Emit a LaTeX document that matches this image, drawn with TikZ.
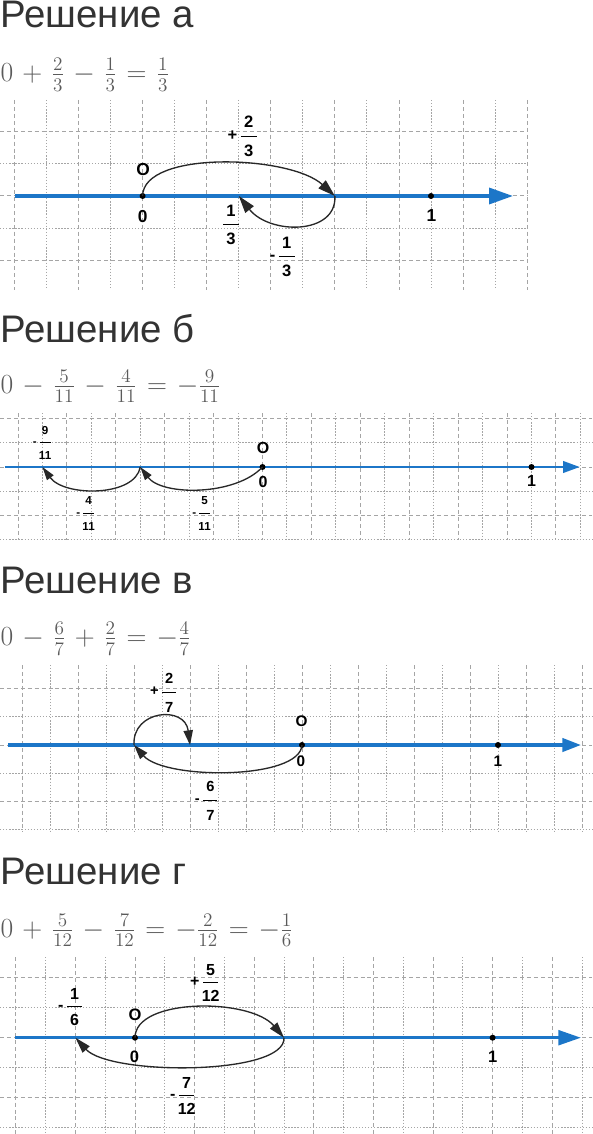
\documentclass[tikz,border=0pt]{standalone}
\usepackage[no-math]{fontspec}
\usepackage{amsmath}
\usetikzlibrary{arrows.meta}
\newfontfamily\labfont{Liberation Sans}
\definecolor{axisblue}{RGB}{28,118,200}
\definecolor{titlegray}{RGB}{51,51,51}
\definecolor{eqgray}{RGB}{90,90,90}
\definecolor{gridgray}{RGB}{165,165,165}
\definecolor{hopgray}{RGB}{40,40,40}
% stacked label fraction, #1 = extra gap
\newcommand{\frl}[3][0.3em]{\ensuremath{\genfrac{}{}{0.8pt}{0}%
  {\text{\makebox[0.95em]{#2}}\rule[-#1]{0pt}{0pt}}%
  {\rule{0pt}{\dimexpr0.72em+#1\relax}\text{\makebox[0.95em]{#3}}}}}
% equation line, looser spacing
\newcommand{\eqline}[1]{$\medmuskip=6mu\thickmuskip=6.5mu #1$}
\tikzset{
  every picture/.style={line width=0.75pt},
  gmaj/.style={draw=gridgray, line width=0.75pt, dash pattern=on 3pt off 2.2pt},
  gmin/.style={draw=gridgray, line width=0.75pt, dash pattern=on 1pt off 1.3pt},
  numline/.style args={#1/#2/#3}{draw=axisblue, line width=#1, -{Triangle[length=#2,width=#3]}},
  hop/.style args={#1/#2}{draw=hopgray, line width=1pt, -{Triangle[length=#1,width=#2]}},
  numdot/.style={circle, fill=black, inner sep=0pt, minimum size=4.5pt},
  lab/.style={inner sep=0pt, font=\labfont\bfseries\fontsize{#1}{#1}\selectfont},
  title/.style={anchor=base west, inner sep=0pt, text=titlegray, font=\labfont\fontsize{28.8}{32}\selectfont},
  eqn/.style={anchor=base west, inner sep=0pt, text=eqgray, font=\fontsize{20.74}{25}\selectfont}
}
\begin{document}
\begin{tikzpicture}[x=0.75pt,y=0.75pt,yscale=-1,xscale=1]
\useasboundingbox (0,0) rectangle (592,1134);

%%% Решение а
\node[title] (ta) at (0,28) {Решение а};
\node[eqn] (ea) at (0,81.7) {\eqline{0+\frac{2}{3}-\frac{1}{3}=\frac{1}{3}}};
% grid
\foreach \k in {-4,-2,...,12} \draw[gmaj] ({142.6+32.05*\k},100) -- ++(0,190);
\foreach \k in {-3,-1,...,11} \draw[gmin] ({142.6+32.05*\k},100) -- ++(0,190);
\foreach \j in {-2,0,2} \draw[gmaj] (0,{196+32.05*\j}) -- ++(528,0);
\foreach \j in {-1,1} \draw[gmin] (0,{196+32.05*\j}) -- ++(528,0);
% number line
\coordinate (aS) at (15,196);
\coordinate (aE) at (513,196);
\draw[numline=2.6pt/18pt/12pt] (aS) -- (aE);
\node[numdot] (a0) at (142.6,196) {};
\node[numdot] (a1) at (431,196) {};
\coordinate (a23) at (334.9,196);
\coordinate (a13) at (238.8,196);
% jumps
\draw[hop=13pt/8pt] (a0.center) .. controls +(0.4,-46) and +(-45,-41) .. (a23);
\draw[hop=13pt/8pt] (a23) .. controls +(2,39) and +(31,39) .. (a13);
% labels
\node[lab=13] (aO) at (143,170) {O};
\node[lab=13] (aZ) at (142.7,216.5) {0};
\node[lab=13] (aI) at (431.5,215.5) {1};
\node[lab=12.4] (lpa) at (243,136.5) {+\kern1.5pt\frl[0.28em]{2}{3}};
\node[lab=12.4] (lqa) at (231,225) {\frl[0.28em]{1}{3}};
\node[lab=12.4] (lma) at (283,257) {-\kern1.5pt\frl[0.28em]{1}{3}};

%%% Решение б
\node[title] (tb) at (0,342) {Решение б};
\node[eqn] (eb) at (0,393) {\eqline{0-\frac{5}{11}-\frac{4}{11}=-\frac{9}{11}}};
% grid
\foreach \k in {-10,-8,...,12} \draw[gmaj] ({262.5+24.45*\k},413) -- ++(0,127);
\foreach \k in {-9,-7,...,13} \draw[gmin] ({262.5+24.45*\k},413) -- ++(0,127);
\foreach \j in {-2,0,2} \draw[gmaj] (0,{467+24.2*\j}) -- ++(592,0);
\foreach \j in {-1,1,3} \draw[gmin] (0,{467+24.2*\j}) -- ++(592,0);
% number line
\coordinate (bS) at (5,467);
\coordinate (bE) at (580,467);
\draw[numline=2.2pt/12.75pt/8.5pt] (bS) -- (bE);
\node[numdot] (b0) at (262.5,467) {};
\node[numdot] (b1) at (531.5,467) {};
\coordinate (b5) at (140.25,467);
\coordinate (b9) at (42.45,467);
% jumps
\draw[hop=10pt/6pt] (b0.center) .. controls +(-27,29) and +(22,29) .. (b5);
\draw[hop=10pt/6pt] (b5) .. controls +(-5,30) and +(22,30) .. (b9);
% labels
\node[lab=12] (bO) at (263,447.5) {O};
\node[lab=12] (bZ) at (263,482) {0};
\node[lab=12] (bI) at (531.5,480.5) {1};
\node[lab=8.7] (lnb) at (42.5,443) {-\kern1pt\frl[0.43em]{9}{11}};
\node[lab=8.7] (lfb) at (86,513.5) {-\kern1pt\frl[0.43em]{4}{11}};
\node[lab=8.7] (lsb) at (202,513.5) {-\kern1pt\frl[0.43em]{5}{11}};

%%% Решение в
\node[title] (tc) at (0,593) {Решение в};
\node[eqn] (ec) at (0,645.5) {\eqline{0-\frac{6}{7}+\frac{2}{7}=-\frac{4}{7}}};
% grid
\foreach \k in {-10,-8,...,10} \draw[gmaj] ({302+28*\k},665) -- ++(0,167);
\foreach \k in {-9,-7,...,9} \draw[gmin] ({302+28*\k},665) -- ++(0,167);
\foreach \j in {-2,0,2} \draw[gmaj] (0,{745+28.3*\j}) -- ++(592,0);
\foreach \j in {-1,1,3} \draw[gmin] (0,{745+28.3*\j}) -- ++(592,0);
% number line
\coordinate (cS) at (8,745);
\coordinate (cE) at (581,745);
\draw[numline=2.4pt/14pt/10pt] (cS) -- (cE);
\node[numdot] (c0) at (302,745) {};
\node[numdot] (c1) at (498,745) {};
\coordinate (c6) at (134,745);
\coordinate (c4) at (190,745);
% jumps
\draw[hop=11pt/7pt] (c0.center) .. controls +(-2,35) and +(31,35) .. (c6);
\draw[hop=11pt/7pt] (c6) .. controls +(-2,-35) and +(-5,-40) .. (c4);
% labels
\node[lab=11.5] (cO) at (301.7,721.7) {O};
\node[lab=11.5] (cZ) at (301,761.7) {0};
\node[lab=11.5] (cI) at (498,761.7) {1};
\node[lab=11] (lpc) at (164,692.5) {+\kern1.5pt\frl[0.37em]{2}{7}};
\node[lab=11] (lmc) at (207,800.5) {-\kern1.5pt\frl[0.37em]{6}{7}};

%%% Решение г
\node[title] (td) at (0,884) {Решение г};
\node[eqn] (ed) at (0,937) {\eqline{0+\frac{5}{12}-\frac{7}{12}=-\frac{2}{12}=-\frac{1}{6}}};
% grid
\foreach \k in {-4,-2,...,14} \draw[gmaj] ({135+29.8*\k},957) -- ++(0,177);
\foreach \k in {-3,-1,...,15} \draw[gmin] ({135+29.8*\k},957) -- ++(0,177);
\foreach \j in {-2,0,2} \draw[gmaj] (0,{1037.7+30*\j}) -- ++(592,0);
\foreach \j in {-1,1,3} \draw[gmin] (0,{1037.7+30*\j}) -- ++(592,0);
% number line
\coordinate (dS) at (15,1037.7);
\coordinate (dE) at (581,1037.7);
\draw[numline=2.4pt/17pt/11pt] (dS) -- (dE);
\node[numdot] (d0) at (135,1037.7) {};
\node[numdot] (d1) at (492.6,1037.7) {};
\coordinate (d5) at (284,1037.7);
\coordinate (dm2) at (75.4,1037.7);
% jumps
\draw[hop=12pt/7pt] (d0.center) .. controls +(0,-40) and +(-34,-40) .. (d5);
\draw[hop=12pt/7pt] (d5) .. controls +(2,38) and +(34.6,38) .. (dm2);
% labels
\node[lab=12.4] (dO) at (135,1015) {O};
\node[lab=12.4] (dZ) at (134.5,1056.7) {0};
\node[lab=12.4] (dI) at (492.6,1056.7) {1};
\node[lab=12] (lpd) at (205,983) {+\kern1.5pt\frl[0.22em]{5}{12}};
\node[lab=12] (lsd) at (71,1007) {-\kern1.5pt\frl[0.22em]{1}{6}};
\node[lab=12] (lmd) at (183,1096) {-\kern1.5pt\frl[0.22em]{7}{12}};
\end{tikzpicture}
\end{document}
